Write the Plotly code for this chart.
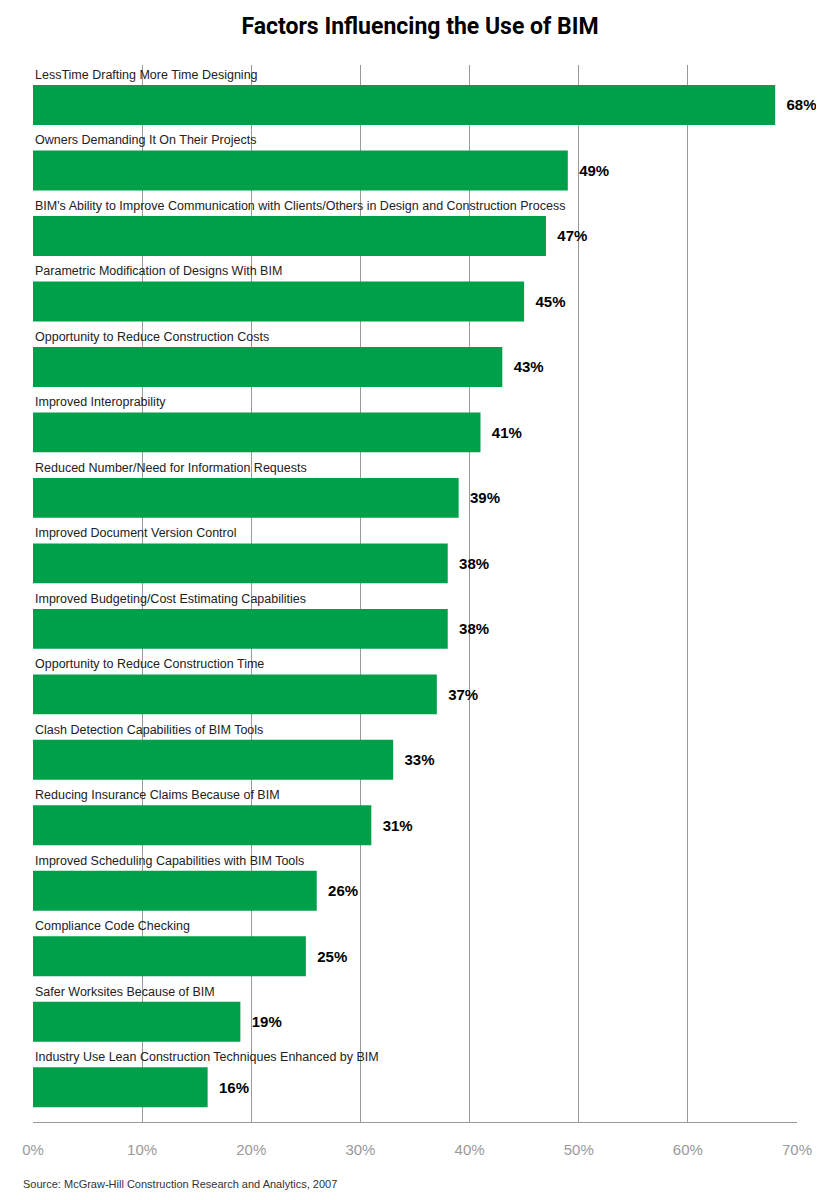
import plotly.graph_objects as go

factors = [
    "LessTime Drafting More Time Designing",
    "Owners Demanding It On Their Projects",
    "BIM's Ability to Improve Communication with Clients/Others in Design and Construction Process",
    "Parametric Modification of Designs With BIM",
    "Opportunity to Reduce Construction Costs",
    "Improved Interoprability",
    "Reduced Number/Need for Information Requests",
    "Improved Document Version Control",
    "Improved Budgeting/Cost Estimating Capabilities",
    "Opportunity to Reduce Construction Time",
    "Clash Detection Capabilities of BIM Tools",
    "Reducing Insurance Claims Because of BIM",
    "Improved Scheduling Capabilities with BIM Tools",
    "Compliance Code Checking",
    "Safer Worksites Because of BIM",
    "Industry Use Lean Construction Techniques Enhanced by BIM",
]
values = [68, 49, 47, 45, 43, 41, 39, 38, 38, 37, 33, 31, 26, 25, 19, 16]
ticks = [0, 10, 20, 30, 40, 50, 60, 70]

pos = list(range(len(factors)))

fig = go.Figure()
fig.add_trace(go.Bar(
    x=values, y=pos, orientation="h", width=0.61,
    marker=dict(color="#00a04b", line=dict(width=0)),
    text=[f"{v}%" for v in values], textposition="outside",
    textfont=dict(family="Arial, Liberation Sans", size=15, color="black"),
    texttemplate="  <b>%{text}</b>", cliponaxis=False,
))

for i, f in enumerate(factors):
    fig.add_annotation(x=0, y=i - 0.31, text=f, xref="x", yref="y",
                       xanchor="left", yanchor="bottom", xshift=0, yshift=1, showarrow=False,
                       font=dict(family="Arial, Liberation Sans", size=12.5, color="#222"))

fig.add_annotation(x=0, y=0, xref="paper", yref="paper", xanchor="left", yanchor="top",
                   xshift=-12, yshift=-54, showarrow=False,
                   text="Source: McGraw-Hill Construction Research and Analytics, 2007",
                   font=dict(family="Arial, Liberation Sans", size=11, color="#333"))

fig.update_layout(
    width=824, height=1200,
    margin=dict(l=25, r=35, t=57, b=86),
    plot_bgcolor="white", paper_bgcolor="white",
    showlegend=False,
    title=dict(text="<b>Factors Influencing the Use of BIM</b>", x=0.5, xanchor="center",
               y=0.985, yanchor="middle",
               font=dict(family="Roboto", size=23, color="black")),
    xaxis=dict(range=[0, 70], tickvals=ticks, ticktext=[f"{t}%" for t in ticks],
               showgrid=True, gridcolor="#999", gridwidth=1, zeroline=False,
               showline=True, linecolor="#999", ticks="", ticklabelstandoff=14,
               tickfont=dict(family="Arial, Liberation Sans", size=15, color="#999")),
    yaxis=dict(range=[15.53, -0.61], showticklabels=False, showgrid=False, zeroline=False),
)

fig.write_html("out.html")
